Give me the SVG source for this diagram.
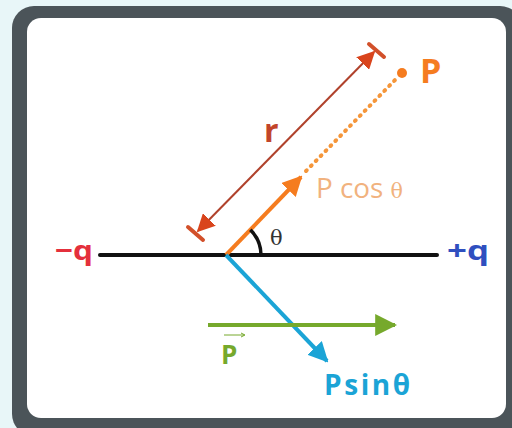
<svg xmlns="http://www.w3.org/2000/svg" width="512" height="428" viewBox="0 0 512 428">
<style>
.lbl{font-family:"Open Sans","Liberation Sans",sans-serif;font-weight:bold}
.ser{font-family:"DejaVu Serif","Liberation Serif",serif}
</style>
<defs>
<marker id="hOr" viewBox="0 0 10 10" refX="9" refY="5" markerWidth="5" markerHeight="5" orient="auto" markerUnits="strokeWidth"><path d="M0,0L10,5L0,10z" fill="#f57c1f"/></marker>
<marker id="hRed" viewBox="0 0 10 10" refX="9" refY="5" markerWidth="9" markerHeight="9" orient="auto-start-reverse" markerUnits="strokeWidth"><path d="M0,0L10,5L0,10z" fill="#d9441c"/></marker>
<marker id="hBl" viewBox="0 0 10 10" refX="9" refY="5" markerWidth="5" markerHeight="5" orient="auto" markerUnits="strokeWidth"><path d="M0,0L10,5L0,10z" fill="#1ba4d6"/></marker>
<marker id="hGr" viewBox="0 0 10 10" refX="9" refY="5" markerWidth="5.5" markerHeight="5.5" orient="auto" markerUnits="strokeWidth"><path d="M0,0L10,5L0,10z" fill="#76a92c"/></marker>
</defs>
<rect width="512" height="428" fill="#e8f6f8"/>
<rect x="12" y="6" width="510" height="430" rx="22" fill="#4b5459"/>
<rect x="27" y="18" width="479" height="400" rx="14" fill="#ffffff"/>
<g id="axis">
<line x1="100" y1="255" x2="437" y2="255" stroke="#111" stroke-width="4" stroke-linecap="round"/>
</g>
<g id="minus-q"><text class="lbl" x="55" y="260" font-size="27" fill="#e4303c" textLength="38" lengthAdjust="spacingAndGlyphs">−q</text></g>
<g id="plus-q"><text class="lbl" x="447" y="260" font-size="27" fill="#2f4fbf" textLength="42" lengthAdjust="spacingAndGlyphs">+q</text></g>
<g id="connectors">
<line x1="226" y1="255" x2="301" y2="177" stroke="#f57c1f" stroke-width="4" marker-end="url(#hOr)"/>
<line x1="306" y1="171" x2="398" y2="77" stroke="#f5963a" stroke-width="4" stroke-dasharray="1 6" stroke-linecap="round"/>
<line x1="198" y1="231" x2="374" y2="52" stroke="#b0422c" stroke-width="2" marker-start="url(#hRed)" marker-end="url(#hRed)"/>
<line x1="188" y1="227" x2="203" y2="240" stroke="#d2502a" stroke-width="4" stroke-linecap="round"/>
<line x1="369" y1="44" x2="384" y2="57" stroke="#d2502a" stroke-width="4" stroke-linecap="round"/>
<path d="M261,255 A35,35 0 0 0 250.3,229.8" fill="none" stroke="#111" stroke-width="3.5"/>
<line x1="226" y1="255" x2="327" y2="361" stroke="#1ba4d6" stroke-width="4" marker-end="url(#hBl)"/>
<line x1="208" y1="325" x2="395" y2="325" stroke="#76a92c" stroke-width="4" marker-end="url(#hGr)"/>
</g>
<g id="point-P">
<circle cx="402" cy="73" r="5" fill="#f57c1f"/>
<text class="lbl" x="420" y="83" font-size="34" fill="#f57c1f">P</text>
</g>
<g id="r-label"><text class="lbl" x="264" y="142" font-size="32" fill="#c2452a">r</text></g>
<g id="pcos-label"><text x="316" y="198" font-family="'Open Sans','Liberation Sans',sans-serif" font-size="27" fill="#f1b27e" textLength="87" lengthAdjust="spacingAndGlyphs">P cos <tspan class="ser" font-size="20">θ</tspan></text></g>
<g id="theta-label"><text class="ser" x="270" y="245" font-size="21" fill="#333">θ</text></g>
<g id="pvec-label">
<text class="lbl" x="221" y="364" font-size="26" fill="#76a92c">P</text>
<line x1="224" y1="335" x2="244" y2="335" stroke="#76a92c" stroke-width="1"/>
<path d="M241,333 L245,335 L241,337" fill="none" stroke="#76a92c" stroke-width="1"/>
</g>
<g id="psin-label"><text class="lbl" x="324" y="395" font-size="28" fill="#1ba4d6" textLength="86" lengthAdjust="spacing">Psinθ</text></g>
</svg>
